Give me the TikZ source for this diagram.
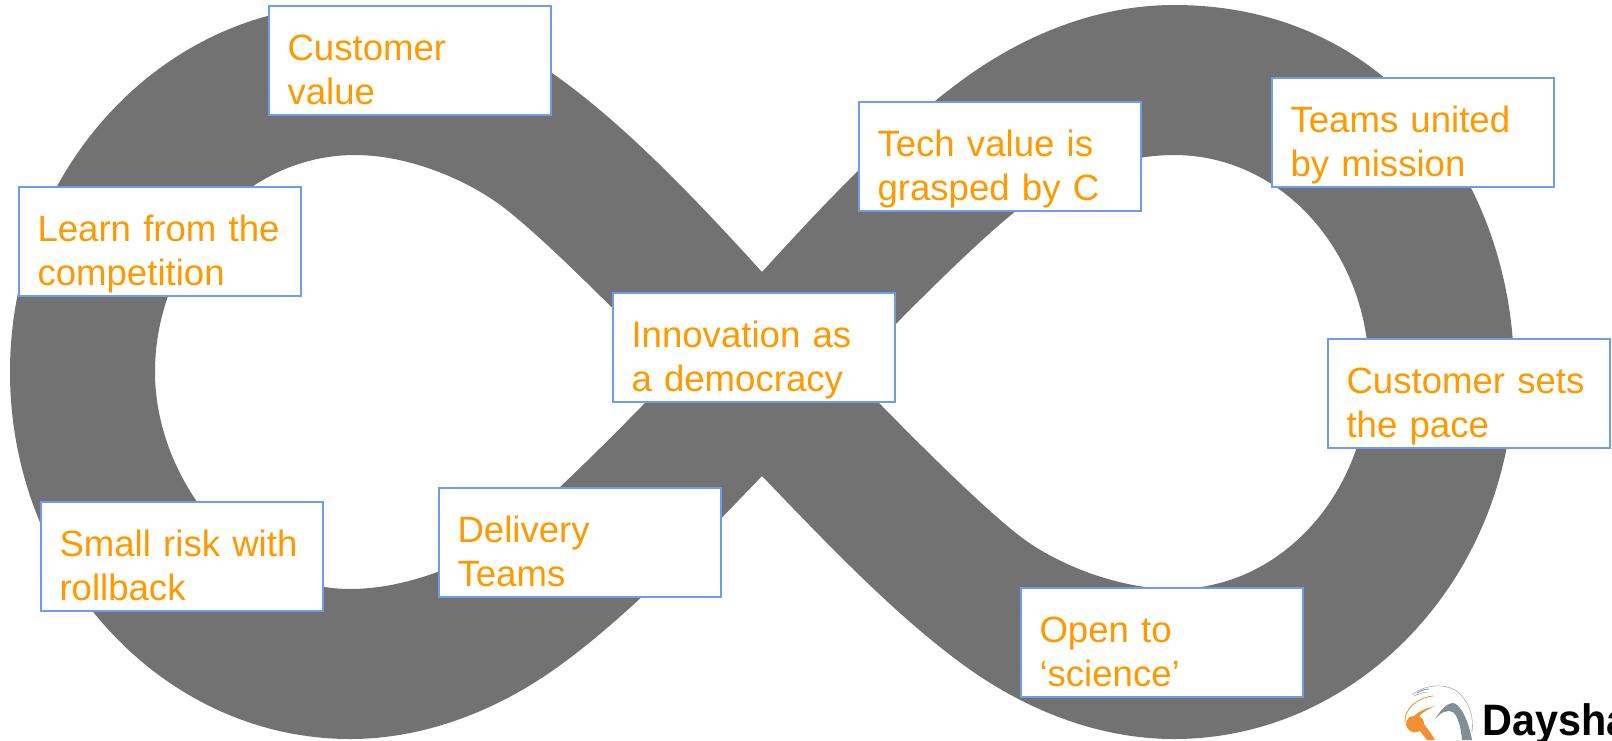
\documentclass[tikz,border=0pt]{standalone}
\usepackage{fontspec}
\setmainfont{Liberation Sans}
\definecolor{loopgrey}{HTML}{727272}
\definecolor{boxblue}{HTML}{6D9EEB}
\definecolor{txtorange}{HTML}{FF9900}
\definecolor{logoorange}{HTML}{F39130}
\definecolor{logogrey}{HTML}{7F8F95}
\tikzset{
  notebox/.style={draw=boxblue,line width=2pt,fill=white,anchor=north west,
    inner xsep=18.5pt,inner ysep=0pt,outer sep=0pt,text width=245pt,align=left,
    text height=54.5pt,text depth=54.5pt,text=txtorange,
    font=\fontsize{36.6pt}{44pt}\selectfont},
  logotext/.style={anchor=base west,inner sep=0pt,xscale=0.94,transform shape,
    font=\fontsize{44pt}{44pt}\selectfont\bfseries}
}
\begin{document}
\begin{tikzpicture}[x=1pt,y=-1pt]
\useasboundingbox (0,0) rectangle (1612,740);
\fill[white] (0,0) rectangle (1612,740);
\clip (0,0) rectangle (1612,740);
% infinity band
\fill[loopgrey,even odd rule]
  (762,272) .. controls (692,195) and (622,122) .. (552,73)
  .. controls (490,30) and (420,5) .. (350,5)
  .. controls (163,5) and (10,170) .. (10,372)
  .. controls (10,574) and (163,739) .. (350,739)
  .. controls (420,739) and (490,714) .. (552,671)
  .. controls (622,622) and (692,549) .. (762,476)
  .. controls (832,549) and (902,622) .. (972,671)
  .. controls (1034,714) and (1104,739) .. (1174,739)
  .. controls (1361,739) and (1514,574) .. (1514,372)
  .. controls (1514,190) and (1395,5) .. (1174,5)
  .. controls (1104,5) and (1034,30) .. (972,73)
  .. controls (902,122) and (832,195) .. (762,272) -- cycle
  (675,372) .. controls (625,320) and (545,239) .. (503,207)
  .. controls (466,179) and (408,155) .. (355,155)
  .. controls (245,155) and (155,255) .. (155,372)
  .. controls (155,478) and (240,589) .. (350,589)
  .. controls (405,589) and (466,565) .. (503,537)
  .. controls (545,505) and (625,424) .. (675,372) -- cycle
  (849,372) .. controls (899,320) and (979,239) .. (1021,207)
  .. controls (1058,179) and (1119,155) .. (1174,155)
  .. controls (1284,155) and (1369,255) .. (1369,372)
  .. controls (1369,489) and (1284,589) .. (1174,589)
  .. controls (1119,589) and (1058,565) .. (1021,537)
  .. controls (979,505) and (899,424) .. (849,372) -- cycle;
% boxes
\node[notebox] (value) at (269,6) {Customer\\value};
\node[notebox] (learn) at (19,187) {Learn from the\\competition};
\node[notebox] (risk) at (41,502) {Small risk with\\rollback};
\node[notebox] (delivery) at (439,488) {Delivery\\Teams};
\node[notebox] (innovation) at (613,293) {Innovation as\\a democracy};
\node[notebox] (tech) at (859,102) {Tech value is\\grasped by C};
\node[notebox] (united) at (1272,78) {Teams united\\by mission};
\node[notebox] (pace) at (1328,339) {Customer sets\\the pace};
\node[notebox] (science) at (1021,588) {Open to\\‘science’};
% logo
\draw[logogrey!70,line width=0.6pt] (1412,695) .. controls (1425,684) and (1448,682) .. (1460,694) .. controls (1470,704) and (1474,718) .. (1472,732);
\draw[logoorange,line width=0.8pt] (1405,722) .. controls (1404,710) and (1416,698) .. (1433,696);
\draw[logogrey,line width=0.8pt] (1417,693) .. controls (1420,691) and (1425,689) .. (1429,689);
\draw[logogrey!70,line width=0.6pt] (1414,696) .. controls (1418,694) and (1424,692) .. (1428,692);
\fill[logoorange] (1435,706) .. controls (1426,708) and (1418,712) .. (1414,716)
  .. controls (1406,716) and (1404,725) .. (1408,729)
  .. controls (1411,733) and (1417,733) .. (1420,731) -- (1427,740) -- (1435,740)
  .. controls (1431,733) and (1427,728) .. (1424,724)
  .. controls (1424,720) and (1422,717) .. (1419,716)
  .. controls (1423,712) and (1430,708) .. (1435,706) -- cycle;
\fill[logogrey] (1435,719) .. controls (1440,711) and (1446,704) .. (1452,703)
  .. controls (1460,702) and (1469,722) .. (1472,740) -- (1462,740)
  .. controls (1461,728) and (1458,716) .. (1453,712)
  .. controls (1447,709) and (1440,713) .. (1435,719) -- cycle;
\node[logotext] (logo) at (1482,735) {Daysha};
\end{tikzpicture}
\end{document}
